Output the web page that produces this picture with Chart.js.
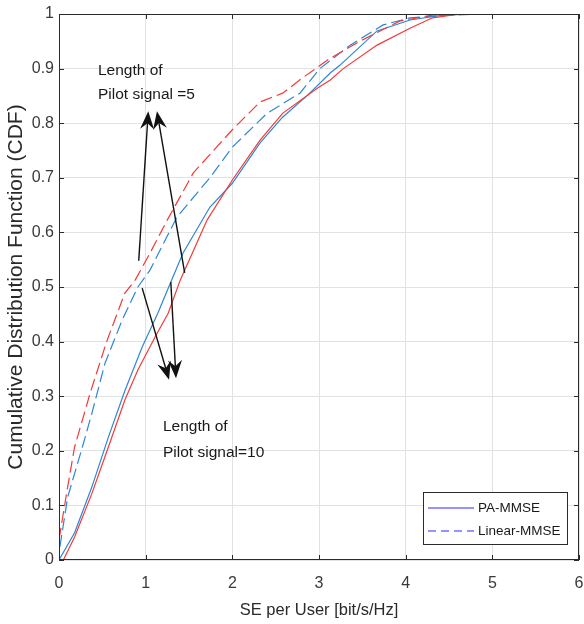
<!DOCTYPE html>
<html>
<head>
<meta charset="utf-8">
<script src="https://cdn.jsdelivr.net/npm/chart.js@4/dist/chart.umd.min.js"></script>
<style>
  html, body { margin: 0; padding: 0; background: #ffffff; }
  #wrap { width: 584px; height: 624px; position: relative; }
</style>
</head>
<body>
<div id="wrap"><canvas id="c" width="584" height="624"></canvas></div>
<script>
// ---- Data ----
const xTicks = [0, 1, 2, 3, 4, 5, 6];
const yTicks = [0, 0.1, 0.2, 0.3, 0.4, 0.5, 0.6, 0.7, 0.8, 0.9, 1];
const yTickLabels = ['0', '0.1', '0.2', '0.3', '0.4', '0.5', '0.6', '0.7', '0.8', '0.9', '1'];

// Pilot length 5 (red)
const paMmsePilot5 = [
  [0.05, 0], [0.18, 0.042], [0.38, 0.122], [0.57, 0.207], [0.76, 0.293], [0.91, 0.348],
  [1.11, 0.409], [1.26, 0.452], [1.40, 0.513], [1.71, 0.623], [2.0, 0.696], [2.32, 0.769],
  [2.58, 0.818], [2.98, 0.864], [3.13, 0.879], [3.28, 0.90], [3.67, 0.943], [4.05, 0.974],
  [4.31, 0.993], [4.63, 1.0]
];
const linearMmsePilot5 = [
  [0, 0.037], [0.10, 0.134], [0.18, 0.207], [0.36, 0.306], [0.55, 0.40], [0.76, 0.489],
  [0.88, 0.513], [1.05, 0.562], [1.25, 0.623], [1.55, 0.709], [2.0, 0.788], [2.32, 0.839],
  [2.58, 0.855], [2.81, 0.883], [3.13, 0.919], [3.47, 0.95], [3.93, 0.987], [4.31, 0.998],
  [4.94, 1.0]
];
// Pilot length 10 (blue)
const paMmsePilot10 = [
  [0, 0], [0.18, 0.05], [0.38, 0.134], [0.57, 0.225], [0.76, 0.31], [0.96, 0.39],
  [1.14, 0.452], [1.30, 0.513], [1.43, 0.562], [1.74, 0.646], [2.0, 0.69], [2.32, 0.764],
  [2.58, 0.811], [2.86, 0.85], [3.13, 0.892], [3.24, 0.906], [3.67, 0.969], [4.05, 0.989],
  [4.43, 0.998], [4.8, 1.0]
];
const linearMmsePilot10 = [
  [0.01, 0.024], [0.10, 0.115], [0.27, 0.207], [0.38, 0.269], [0.53, 0.36], [0.73, 0.44],
  [0.91, 0.50], [1.05, 0.531], [1.36, 0.628], [1.74, 0.70], [2.0, 0.756], [2.4, 0.818],
  [2.78, 0.855], [3.01, 0.90], [3.36, 0.943], [3.74, 0.98], [4.05, 0.993], [4.6, 0.999],
  [5.7, 1.0]
];

const legendLabels = ['PA-MMSE', 'Linear-MMSE'];
const annotationTop = ['Length of', 'Pilot signal =5'];
const annotationBottom = ['Length of', 'Pilot signal=10'];
// arrows: [tailX, tailY, tipX, tipY] in data units
const arrowsTop = [[0.92, 0.548, 1.03, 0.822], [1.45, 0.526, 1.13, 0.822]];
const arrowsBottom = [[0.96, 0.498, 1.27, 0.33], [1.29, 0.509, 1.35, 0.333]];

// ---- Styles ----
const RED = '#f23a3a';
const BLUE = '#2f86d4';
const FONT = '"Liberation Sans", Arial, sans-serif';

function toXY(arr) { return arr.map(p => ({ x: p[0], y: p[1] })); }

const decorations = {
  id: 'decorations',
  afterDatasetsDraw(chart) {
    const ctx = chart.ctx;
    const a = chart.chartArea;
    const xs = chart.scales.x, ys = chart.scales.y;
    ctx.save();
    // box
    ctx.strokeStyle = '#2b2b2b';
    ctx.lineWidth = 1;
    ctx.strokeRect(a.left + 0.5, a.top + 0.5, a.right - a.left - 1, a.bottom - a.top - 1);
    // inward ticks
    const tl = 5;
    ctx.beginPath();
    xTicks.forEach(v => {
      const px = Math.round(xs.getPixelForValue(v)) + 0.5;
      ctx.moveTo(px, a.bottom); ctx.lineTo(px, a.bottom - tl);
      ctx.moveTo(px, a.top); ctx.lineTo(px, a.top + tl);
    });
    yTicks.forEach(v => {
      const py = Math.round(ys.getPixelForValue(v)) + 0.5;
      ctx.moveTo(a.left, py); ctx.lineTo(a.left + tl, py);
      ctx.moveTo(a.right, py); ctx.lineTo(a.right - tl, py);
    });
    ctx.stroke();

    // arrows
    function arrow(t) {
      const x0 = xs.getPixelForValue(t[0]), y0 = ys.getPixelForValue(t[1]);
      const x1 = xs.getPixelForValue(t[2]), y1 = ys.getPixelForValue(t[3]);
      const ang = Math.atan2(y1 - y0, x1 - x0);
      const L = 18, W = 7, back = 12;
      ctx.strokeStyle = '#111';
      ctx.lineWidth = 1.4;
      ctx.beginPath();
      ctx.moveTo(x0, y0);
      ctx.lineTo(x1 - Math.cos(ang) * back, y1 - Math.sin(ang) * back);
      ctx.stroke();
      const cx = Math.cos(ang), sy = Math.sin(ang);
      ctx.fillStyle = '#111';
      ctx.beginPath();
      ctx.moveTo(x1, y1);
      ctx.lineTo(x1 - cx * L - sy * W, y1 - sy * L + cx * W);
      ctx.lineTo(x1 - cx * back, y1 - sy * back);
      ctx.lineTo(x1 - cx * L + sy * W, y1 - sy * L - cx * W);
      ctx.closePath();
      ctx.fill();
    }
    arrowsTop.forEach(arrow);
    arrowsBottom.forEach(arrow);

    // annotation texts
    ctx.fillStyle = '#1a1a1a';
    ctx.font = '15.5px ' + FONT;
    ctx.textAlign = 'left';
    ctx.textBaseline = 'middle';
    const tx1 = xs.getPixelForValue(0.45);
    ctx.fillText(annotationTop[0], tx1, ys.getPixelForValue(0.896));
    ctx.fillText(annotationTop[1], tx1, ys.getPixelForValue(0.852));
    const tx2 = xs.getPixelForValue(1.20);
    ctx.fillText(annotationBottom[0], tx2, ys.getPixelForValue(0.244));
    ctx.fillText(annotationBottom[1], tx2, ys.getPixelForValue(0.196));

    // legend
    const bw = 144, bh = 52;
    const bx = a.right - 12 - bw, by = a.bottom - 16 - bh;
    ctx.fillStyle = '#ffffff';
    ctx.fillRect(bx, by, bw, bh);
    ctx.strokeStyle = '#2b2b2b';
    ctx.lineWidth = 1;
    ctx.strokeRect(bx + 0.5, by + 0.5, bw, bh);
    ctx.font = '13.5px ' + FONT;
    ctx.textBaseline = 'middle';
    const rows = [by + 16, by + 39];
    ctx.strokeStyle = '#2a2aff';
    ctx.lineWidth = 1.2;
    rows.forEach((ry, i) => {
      ctx.setLineDash(i === 0 ? [] : [8, 5]);
      ctx.beginPath();
      ctx.moveTo(bx + 5, ry); ctx.lineTo(bx + 51, ry);
      ctx.stroke();
      ctx.setLineDash([]);
      ctx.fillStyle = '#1a1a1a';
      ctx.fillText(legendLabels[i], bx + 55, ry);
    });
    ctx.restore();
  }
};

new Chart(document.getElementById('c'), {
  type: 'scatter',
  data: {
    datasets: [
      { label: 'PA-MMSE, pilot 5', data: toXY(paMmsePilot5), borderColor: RED, borderWidth: 1.2, showLine: true, pointRadius: 0, tension: 0 },
      { label: 'Linear-MMSE, pilot 5', data: toXY(linearMmsePilot5), borderColor: RED, borderWidth: 1.2, borderDash: [12, 5], showLine: true, pointRadius: 0, tension: 0 },
      { label: 'PA-MMSE, pilot 10', data: toXY(paMmsePilot10), borderColor: BLUE, borderWidth: 1.2, showLine: true, pointRadius: 0, tension: 0 },
      { label: 'Linear-MMSE, pilot 10', data: toXY(linearMmsePilot10), borderColor: BLUE, borderWidth: 1.2, borderDash: [12, 5], showLine: true, pointRadius: 0, tension: 0 }
    ]
  },
  options: {
    responsive: false,
    animation: false,
    layout: { padding: { left: 0, right: 5, top: 14, bottom: 0 } },
    plugins: { legend: { display: false }, tooltip: { enabled: false } },
    scales: {
      x: {
        type: 'linear', min: 0, max: 6,
        afterFit(s) { s.height = 64; s.paddingLeft = 0; s.paddingRight = 0; },
        afterBuildTicks(s) { s.ticks = xTicks.map(v => ({ value: v })); },
        grid: { color: '#e2e2e2', drawTicks: false },
        border: { display: false },
        ticks: { color: '#3a3a3a', padding: 14, font: { family: FONT, size: 16 }, maxRotation: 0 },
        title: { display: true, text: 'SE per User [bit/s/Hz]', color: '#2a2a2a', font: { family: FONT, size: 16.5 }, padding: { top: 0, bottom: 4 } }
      },
      y: {
        type: 'linear', min: 0, max: 1,
        afterFit(s) { s.width = 59; s.paddingTop = 0; s.paddingBottom = 0; },
        afterBuildTicks(s) { s.ticks = yTicks.map(v => ({ value: v })); },
        grid: { color: '#e2e2e2', drawTicks: false },
        border: { display: false },
        ticks: {
          color: '#3a3a3a', padding: 5, font: { family: FONT, size: 16 },
          callback: (v) => { const i = yTicks.findIndex(t => Math.abs(t - v) < 1e-9); return i >= 0 ? yTickLabels[i] : ''; }
        },
        title: { display: true, text: 'Cumulative Distribution Function (CDF)', color: '#2a2a2a', font: { family: FONT, size: 21 }, padding: { top: 4, bottom: 0 } }
      }
    }
  },
  plugins: [decorations]
});
</script>
</body>
</html>
